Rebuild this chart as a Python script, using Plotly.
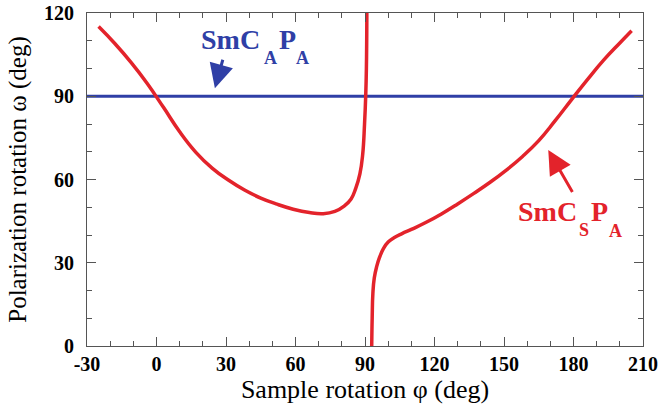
import plotly.graph_objects as go

# Left branch of SmCsPA curve
phi_left = [-25, -18, -11, -4, 3, 10, 17, 24, 31, 38, 45, 52, 59, 66, 72, 77, 81, 84, 86, 87.8, 89, 89.8, 90.3, 90.6, 90.8]
omega_left = [115.1, 109.0, 102.2, 94.6, 86.0, 77.2, 69.8, 64.1, 59.8, 56.2, 53.3, 51.1, 49.3, 48.1, 47.7, 48.5, 50.4, 53.0, 56.8, 62.0, 69.0, 80.0, 90.0, 100, 120]

# Right branch of SmCsPA curve
phi_right = [92.9, 93.1, 93.4, 94.0, 95.0, 96.3, 98, 100, 102.5, 106, 110, 116, 123, 130, 137, 144, 151, 158, 165, 172, 179, 186, 193, 200, 205.1]
omega_right = [0, 10, 19, 24.5, 28.5, 32, 35.2, 37.5, 39.0, 40.5, 42.0, 44.4, 47.6, 51.2, 55, 59, 63.4, 68.3, 74.0, 81.1, 88.6, 96.0, 103.0, 109.2, 113.6]

# SmCAPA horizontal line
phi_line = [-30, 210]
omega_line = [90, 90]

x_ticks = [-30, 0, 30, 60, 90, 120, 150, 180, 210]
y_ticks = [0, 30, 60, 90, 120]

RED = "#e3232b"
BLUE = "#2f3fa6"
SERIF = "Liberation Serif, Times New Roman, serif"

fig = go.Figure()
fig.add_trace(go.Scatter(x=phi_line, y=omega_line, mode="lines",
                         line=dict(color=BLUE, width=3), showlegend=False))
fig.add_trace(go.Scatter(x=phi_left, y=omega_left, mode="lines",
                         line=dict(color=RED, width=3.5, shape="spline", smoothing=1.3),
                         showlegend=False))
fig.add_trace(go.Scatter(x=phi_right, y=omega_right, mode="lines",
                         line=dict(color=RED, width=3.5, shape="spline", smoothing=1.3),
                         showlegend=False))

axis_common = dict(
    showgrid=False, zeroline=False, showline=True, linecolor="#555", linewidth=1,
    mirror="ticks", ticks="inside", ticklen=9, tickwidth=1, tickcolor="#555",
    tickfont=dict(family=SERIF, size=20, color="black", weight="bold"),
    automargin=False,
)

fig.update_xaxes(range=[-30, 210], tickvals=x_ticks, ticktext=[str(v) for v in x_ticks],
                 minor=dict(dtick=10, ticks="inside", ticklen=5, tickcolor="#555"),
                 ticklabelstandoff=0,
                 title=dict(text="Sample rotation φ (deg)", font=dict(family=SERIF, size=26, color="black"),
                            standoff=4),
                 **axis_common)
fig.update_yaxes(range=[0, 120], tickvals=y_ticks, ticktext=[str(v) for v in y_ticks],
                 minor=dict(dtick=10, ticks="inside", ticklen=5, tickcolor="#555"),
                 ticklabelstandoff=8,
                 title=dict(text="Polarization rotation ω (deg)", font=dict(family=SERIF, size=25, color="black"),
                            standoff=10),
                 **axis_common)

def label(parts, color):
    for text, x, y, size, anchor in parts:
        fig.add_annotation(x=x, y=y, xref="x", yref="y", showarrow=False, text=text,
                           xanchor=anchor, yanchor="middle", borderpad=0,
                           font=dict(family=SERIF, size=size, color=color, weight="bold"))

label([("SmC", 18.8, 110.3, 28, "left"), ("A", 49.0, 103.9, 18, "center"),
       ("P", 52.4, 110.3, 28, "left"), ("A", 63.2, 103.9, 18, "center")], BLUE)
label([("SmC", 155.6, 48.3, 28, "left"), ("S", 184.5, 41.8, 18, "center"),
       ("P", 187.1, 48.3, 28, "left"), ("A", 198.1, 41.3, 18, "center")], RED)

fig.add_annotation(x=25.2, y=92.9, ax=28.8, ay=103.7, xref="x", yref="y", axref="x", ayref="y",
                   text="", showarrow=True, arrowhead=2, arrowsize=1.6, arrowwidth=3, arrowcolor=BLUE)
fig.add_annotation(x=169.1, y=70.6, ax=179.9, ay=55.0, xref="x", yref="y", axref="x", ayref="y",
                   text="", showarrow=True, arrowhead=2, arrowsize=1.6, arrowwidth=3, arrowcolor=RED)

fig.update_layout(width=659, height=414, margin=dict(l=87, r=16, t=13, b=68),
                  plot_bgcolor="white", paper_bgcolor="white")

fig.write_html("out.html", config={"displayModeBar": False},
               post_script="document.body.style.margin='0';")
